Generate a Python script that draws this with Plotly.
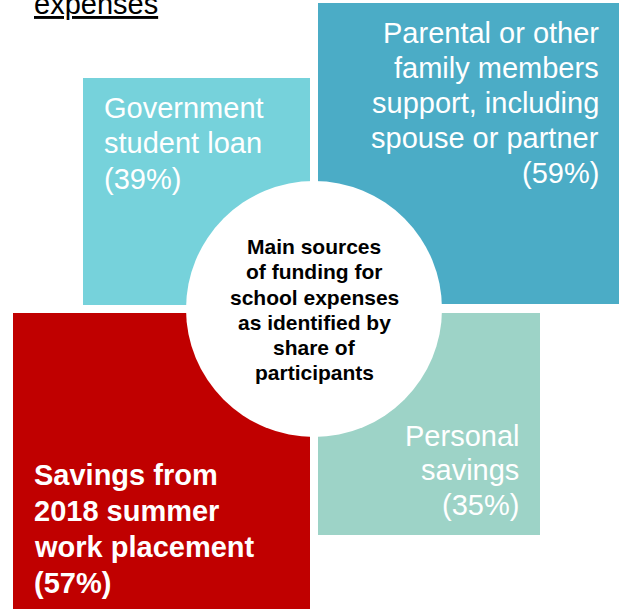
import plotly.graph_objects as go

# Funding sources and the share of participants naming each one
sources = [
    "Government student loan",
    "Parental or other family members support, including spouse or partner",
    "Personal savings",
    "Savings from 2018 summer work placement",
]
shares = [39, 59, 35, 57]
# How each label breaks across lines inside its tile
label_lines = [
    ["Government", "student loan"],
    ["Parental or other", "family members", "support, including", "spouse or partner"],
    ["Personal", "savings"],
    ["Savings from", "2018 summer", "work placement"],
]
center_lines = ["Main sources", "of funding for", "school expenses",
                "as identified by", "share of", "participants"]
heading = "expenses"

# Tile geometry in page pixels (x0, y0, x1, y1) and styling
tiles = [
    dict(box=(83, 78, 310, 305), color="#76D2DB", align="left", x=103, base=118, step=35.5, bold=False),
    dict(box=(318, 3, 619, 304), color="#4BACC6", align="right", x=600, base=43, step=35.0, bold=False),
    dict(box=(318, 313, 540, 535), color="#9DD3C7", align="right", x=520, base=446, step=34.5, bold=False),
    dict(box=(13, 313, 310, 612), color="#C00000", align="left", x=33, base=485, step=36.0, bold=True),
]
W, H = 622, 609
FONT = "Liberation Sans, Arial, sans-serif"
FS = 29
CENTER_FS = 21

fig = go.Figure()
shapes = []
annotations = []


def line_annotation(text, x, baseline, size, align, color, bold=False):
    # place one text line so that its baseline lands on `baseline`
    if bold:
        text = f"<b>{text}</b>"
    return dict(
        x=x, y=baseline - 0.35 * size, xref="x", yref="y",
        text=text, showarrow=False, xanchor=align, yanchor="middle",
        font=dict(family=FONT, size=size, color=color), borderpad=0,
    )


for tile, lines, share in zip(tiles, label_lines, shares):
    x0, y0, x1, y1 = tile["box"]
    shapes.append(dict(type="rect", x0=x0, y0=y0, x1=x1, y1=y1,
                       fillcolor=tile["color"], line=dict(width=0), layer="below"))
    for i, txt in enumerate(lines + [f"({share}%)"]):
        annotations.append(line_annotation(txt, tile["x"], tile["base"] + i * tile["step"],
                                           FS, tile["align"], "white", tile["bold"]))

# White disc in the middle
cx, cy, r = 314, 309, 128
shapes.append(dict(type="circle", x0=cx - r, y0=cy - r, x1=cx + r, y1=cy + r,
                   fillcolor="white", line=dict(width=0), layer="below"))

for i, txt in enumerate(center_lines):
    annotations.append(line_annotation(txt, 314, 254 + i * 25.2, CENTER_FS, "center", "black", True))

# Heading fragment at the top
annotations.append(line_annotation(f"<u>{heading}</u>", 33, 14, FS, "left", "black"))

fig.update_layout(
    width=W, height=H,
    margin=dict(l=0, r=0, t=0, b=0),
    paper_bgcolor="white", plot_bgcolor="white",
    xaxis=dict(range=[0, W], visible=False, fixedrange=True),
    yaxis=dict(range=[H, 0], visible=False, fixedrange=True),
    shapes=shapes, annotations=annotations, showlegend=False,
)

fig.write_html("out.html", config={"displayModeBar": False})
